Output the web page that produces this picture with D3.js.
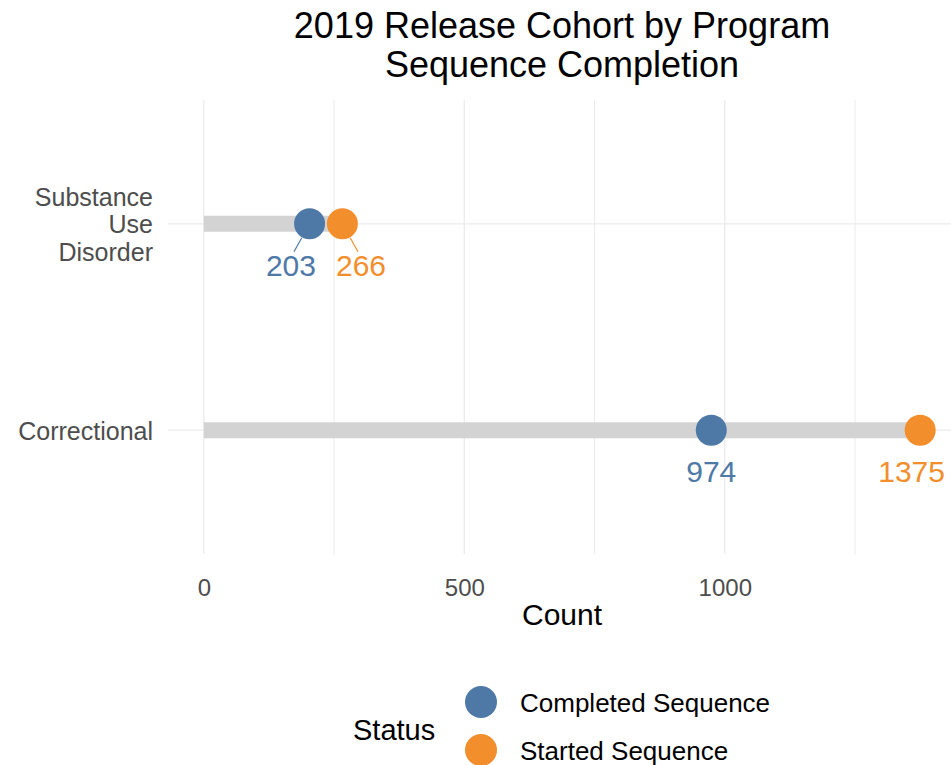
<!DOCTYPE html>
<html>
<head>
<meta charset="utf-8">
<script src="https://cdn.jsdelivr.net/npm/d3@7"></script>
<style>
  body { margin: 0; background: #fff; }
  text { font-family: "Liberation Sans", Arial, sans-serif; }
</style>
</head>
<body>
<div id="chart"></div>
<script>
// chart data
const programs = ["Substance Use Disorder", "Correctional"];
const completed = [203, 974];
const started = [266, 1375];
const statuses = ["Completed Sequence", "Started Sequence"];
const statusColors = ["#4E79A7", "#F28E2B"];
const xTicks = [0, 500, 1000];
const xMinorTicks = [250, 750, 1250];

const width = 951, height = 765;
const panel = { left: 168, right: 956, top: 100, bottom: 554 };

const svg = d3.select("#chart").append("svg")
  .attr("width", width)
  .attr("height", height);

// x scale with ggplot style 5% expansion
const xMax = d3.max(started);
const pad = xMax * 0.05;
const x = d3.scaleLinear()
  .domain([-pad, xMax + pad])
  .range([panel.left, panel.right]);

// discrete y scale, 0.6 step padding like ggplot
const y = d3.scalePoint()
  .domain(programs)
  .range([panel.top, panel.bottom])
  .padding(0.6);

// grid lines
const grid = svg.append("g");
grid.selectAll(".minor")
  .data(xMinorTicks)
  .enter().append("line")
    .attr("x1", d => x(d)).attr("x2", d => x(d))
    .attr("y1", panel.top).attr("y2", panel.bottom)
    .style("stroke", "#EBEBEB").style("stroke-width", 1);
grid.selectAll(".major")
  .data(xTicks)
  .enter().append("line")
    .attr("x1", d => x(d)).attr("x2", d => x(d))
    .attr("y1", panel.top).attr("y2", panel.bottom)
    .style("stroke", "#EBEBEB").style("stroke-width", 1.3);
grid.selectAll(".hmajor")
  .data(programs)
  .enter().append("line")
    .attr("x1", panel.left).attr("x2", panel.right)
    .attr("y1", d => y(d)).attr("y2", d => y(d))
    .style("stroke", "#EBEBEB").style("stroke-width", 1.3);

// x axis
const xAxis = svg.append("g")
  .attr("transform", "translate(0," + panel.bottom + ")")
  .call(d3.axisBottom(x).tickValues(xTicks).tickFormat(d3.format("d")).tickSize(0).tickPadding(25));
xAxis.select(".domain").remove();
xAxis.selectAll("text")
  .style("font-size", "24px")
  .style("fill", "#4D4D4D")
  .attr("font-family", null);

// y axis with wrapped labels
const yAxis = svg.append("g")
  .attr("transform", "translate(" + panel.left + ",0)")
  .call(d3.axisLeft(y).tickSize(0).tickPadding(15));
yAxis.select(".domain").remove();
yAxis.selectAll("text")
  .attr("font-family", null)
  .style("font-size", "25px")
  .style("fill", "#4D4D4D")
  .each(function (d) {
    const words = d.split(" ");
    const t = d3.select(this).text(null).attr("dy", null);
    const lineH = 27.5;
    const first = -(words.length - 1) / 2 * lineH;
    words.forEach((w, i) => {
      t.append("tspan")
        .attr("x", -15)
        .attr("y", first + i * lineH)
        .attr("dy", "0.36em")
        .text(w);
    });
  });

// dumbbell rows
const rows = programs.map((p, i) => ({ program: p, values: [completed[i], started[i]] }));

svg.selectAll(".bar")
  .data(rows)
  .enter().append("line")
    .attr("x1", x(0))
    .attr("x2", d => x(d3.max(d.values)))
    .attr("y1", d => y(d.program))
    .attr("y2", d => y(d.program))
    .style("stroke", "#D3D3D3")
    .style("stroke-width", 16);

const points = [];
rows.forEach(r => r.values.forEach((v, j) => points.push({ program: r.program, value: v, status: j })));

svg.selectAll(".dot")
  .data(points)
  .enter().append("circle")
    .attr("cx", d => x(d.value))
    .attr("cy", d => y(d.program))
    .attr("r", 15.5)
    .style("fill", d => statusColors[d.status]);

// labels below points, pushed apart when they overlap (a tiny repel)
const labelSize = 30;
const labelDrop = 52;
const labels = points.map(d => ({
  d: d,
  px: x(d.value),
  py: y(d.program),
  w: String(d.value).length * labelSize * 0.556,
  lx: x(d.value)
}));
rows.forEach(r => {
  const ls = labels.filter(l => l.d.program === r.program).sort((a, b) => a.px - b.px);
  for (let i = 1; i < ls.length; i++) {
    const need = (ls[i - 1].w + ls[i].w) / 2 + 20;
    const gap = ls[i].lx - ls[i - 1].lx;
    if (gap < need) {
      const push = (need - gap) / 2;
      ls[i - 1].lx -= push;
      ls[i].lx += push;
    }
  }
  ls.forEach(l => {
    const maxX = width - 6 - l.w / 2;
    if (l.lx > maxX) l.lx = maxX;
  });
});

labels.forEach(l => {
  const baseY = l.py + labelDrop;
  if (Math.abs(l.lx - l.px) > 12) {
    const tx = l.lx + (l.lx < l.px ? 3 : -3), ty = baseY - labelSize * 0.8;
    const ang = Math.atan2(ty - l.py, tx - l.px);
    svg.append("line")
      .attr("x1", l.px + Math.cos(ang) * 16)
      .attr("y1", l.py + Math.sin(ang) * 16)
      .attr("x2", tx)
      .attr("y2", ty)
      .style("stroke", statusColors[l.d.status])
      .style("stroke-width", 1.2);
  }
  svg.append("text")
    .attr("x", l.lx)
    .attr("y", baseY)
    .attr("text-anchor", "middle")
    .style("font-size", labelSize + "px")
    .style("fill", statusColors[l.d.status])
    .text(l.d.value);
});

// title
const cx = (panel.left + panel.right) / 2;
svg.append("text")
  .attr("x", cx).attr("y", 38)
  .attr("text-anchor", "middle")
  .style("font-size", "36px")
  .text("2019 Release Cohort by Program");
svg.append("text")
  .attr("x", cx).attr("y", 77)
  .attr("text-anchor", "middle")
  .style("font-size", "36px")
  .text("Sequence Completion");

// x axis title
svg.append("text")
  .attr("x", cx).attr("y", 625)
  .attr("text-anchor", "middle")
  .style("font-size", "30px")
  .text("Count");

// legend
const legend = svg.append("g");
legend.append("text")
  .attr("x", 353).attr("y", 740)
  .style("font-size", "29px")
  .text("Status");
const keys = legend.selectAll(".key")
  .data(statuses)
  .enter().append("g")
    .attr("transform", (d, i) => "translate(481," + (702 + i * 48) + ")");
keys.append("circle")
  .attr("r", 16)
  .style("fill", (d, i) => statusColors[i]);
keys.append("text")
  .attr("x", 39)
  .attr("dy", "0.4em")
  .style("font-size", "26px")
  .text(d => d);
</script>
</body>
</html>
